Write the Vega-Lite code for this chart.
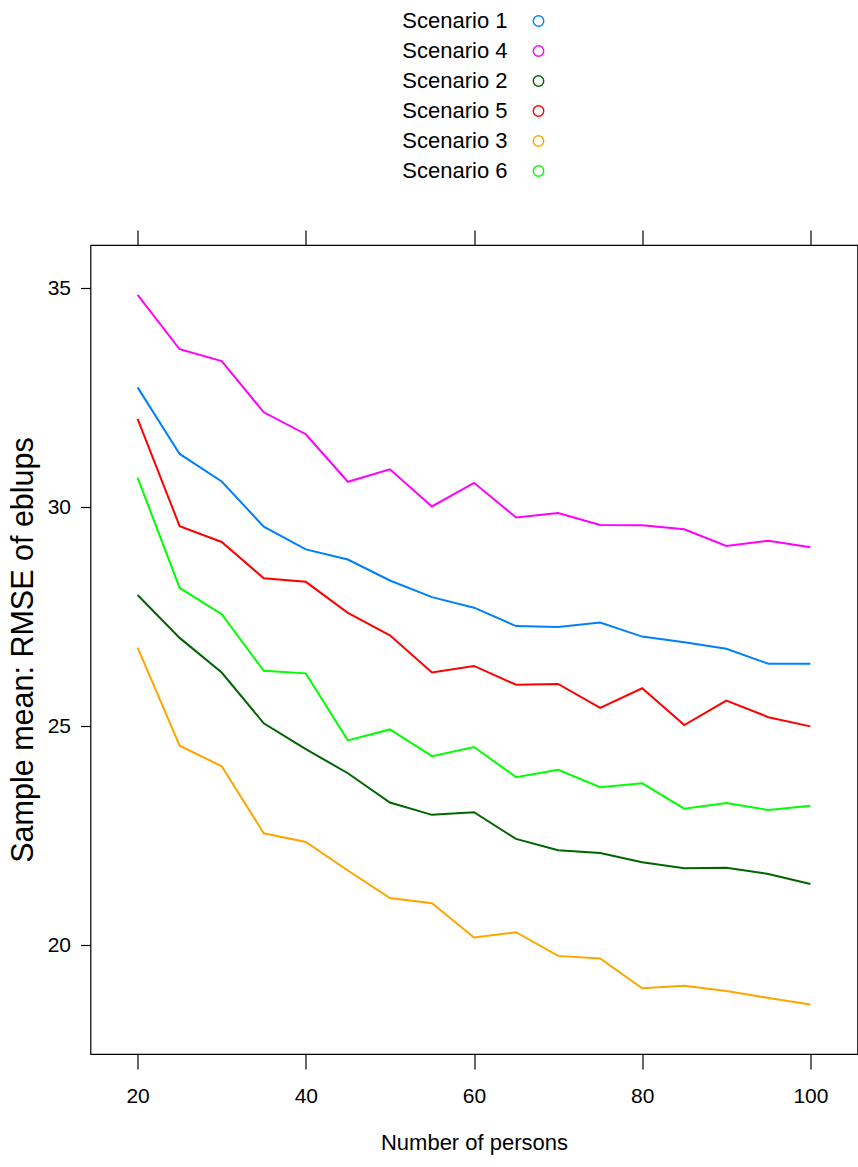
{
  "$schema": "https://vega.github.io/schema/vega-lite/v6.json",
  "width": 767,
  "height": 809,
  "autosize": {"type": "none"},
  "padding": {"left": 90.5, "top": 245, "right": 0.5, "bottom": 113},
  "background": "white",
  "config": {
    "view": {"stroke": "black", "strokeWidth": 1.2},
    "font": "Liberation Sans",
    "axis": {"grid": false, "domain": false, "tickColor": "black", "tickWidth": 1.2, "labelColor": "black", "titleColor": "black", "titleFontWeight": "normal", "labelFont": "Liberation Sans", "titleFont": "Liberation Sans"},
    "legend": {"labelFont": "Liberation Sans"}
  },
  "data": {"values": [
    {"n":20,"s":"Scenario 1","v":32.74},{"n":25,"s":"Scenario 1","v":31.22},{"n":30,"s":"Scenario 1","v":30.59},{"n":35,"s":"Scenario 1","v":29.56},{"n":40,"s":"Scenario 1","v":29.04},{"n":45,"s":"Scenario 1","v":28.81},{"n":50,"s":"Scenario 1","v":28.33},{"n":55,"s":"Scenario 1","v":27.95},{"n":60,"s":"Scenario 1","v":27.71},{"n":65,"s":"Scenario 1","v":27.29},{"n":70,"s":"Scenario 1","v":27.27},{"n":75,"s":"Scenario 1","v":27.37},{"n":80,"s":"Scenario 1","v":27.05},{"n":85,"s":"Scenario 1","v":26.92},{"n":90,"s":"Scenario 1","v":26.77},{"n":95,"s":"Scenario 1","v":26.43},{"n":100,"s":"Scenario 1","v":26.43},
    {"n":20,"s":"Scenario 4","v":34.85},{"n":25,"s":"Scenario 4","v":33.61},{"n":30,"s":"Scenario 4","v":33.34},{"n":35,"s":"Scenario 4","v":32.17},{"n":40,"s":"Scenario 4","v":31.67},{"n":45,"s":"Scenario 4","v":30.585},{"n":50,"s":"Scenario 4","v":30.87},{"n":55,"s":"Scenario 4","v":30.02},{"n":60,"s":"Scenario 4","v":30.56},{"n":65,"s":"Scenario 4","v":29.77},{"n":70,"s":"Scenario 4","v":29.87},{"n":75,"s":"Scenario 4","v":29.6},{"n":80,"s":"Scenario 4","v":29.59},{"n":85,"s":"Scenario 4","v":29.5},{"n":90,"s":"Scenario 4","v":29.12},{"n":95,"s":"Scenario 4","v":29.24},{"n":100,"s":"Scenario 4","v":29.09},
    {"n":20,"s":"Scenario 2","v":28.0},{"n":25,"s":"Scenario 2","v":27.02},{"n":30,"s":"Scenario 2","v":26.23},{"n":35,"s":"Scenario 2","v":25.07},{"n":40,"s":"Scenario 2","v":24.48},{"n":45,"s":"Scenario 2","v":23.93},{"n":50,"s":"Scenario 2","v":23.26},{"n":55,"s":"Scenario 2","v":22.98},{"n":60,"s":"Scenario 2","v":23.04},{"n":65,"s":"Scenario 2","v":22.43},{"n":70,"s":"Scenario 2","v":22.17},{"n":75,"s":"Scenario 2","v":22.11},{"n":80,"s":"Scenario 2","v":21.9},{"n":85,"s":"Scenario 2","v":21.76},{"n":90,"s":"Scenario 2","v":21.77},{"n":95,"s":"Scenario 2","v":21.63},{"n":100,"s":"Scenario 2","v":21.4},
    {"n":20,"s":"Scenario 5","v":32.02},{"n":25,"s":"Scenario 5","v":29.57},{"n":30,"s":"Scenario 5","v":29.21},{"n":35,"s":"Scenario 5","v":28.38},{"n":40,"s":"Scenario 5","v":28.3},{"n":45,"s":"Scenario 5","v":27.59},{"n":50,"s":"Scenario 5","v":27.08},{"n":55,"s":"Scenario 5","v":26.23},{"n":60,"s":"Scenario 5","v":26.38},{"n":65,"s":"Scenario 5","v":25.95},{"n":70,"s":"Scenario 5","v":25.97},{"n":75,"s":"Scenario 5","v":25.42},{"n":80,"s":"Scenario 5","v":25.87},{"n":85,"s":"Scenario 5","v":25.03},{"n":90,"s":"Scenario 5","v":25.59},{"n":95,"s":"Scenario 5","v":25.21},{"n":100,"s":"Scenario 5","v":25.0},
    {"n":20,"s":"Scenario 3","v":26.8},{"n":25,"s":"Scenario 3","v":24.56},{"n":30,"s":"Scenario 3","v":24.09},{"n":35,"s":"Scenario 3","v":22.56},{"n":40,"s":"Scenario 3","v":22.36},{"n":45,"s":"Scenario 3","v":21.71},{"n":50,"s":"Scenario 3","v":21.08},{"n":55,"s":"Scenario 3","v":20.96},{"n":60,"s":"Scenario 3","v":20.18},{"n":65,"s":"Scenario 3","v":20.3},{"n":70,"s":"Scenario 3","v":19.76},{"n":75,"s":"Scenario 3","v":19.7},{"n":80,"s":"Scenario 3","v":19.02},{"n":85,"s":"Scenario 3","v":19.08},{"n":90,"s":"Scenario 3","v":18.96},{"n":95,"s":"Scenario 3","v":18.8},{"n":100,"s":"Scenario 3","v":18.65},
    {"n":20,"s":"Scenario 6","v":30.68},{"n":25,"s":"Scenario 6","v":28.16},{"n":30,"s":"Scenario 6","v":27.56},{"n":35,"s":"Scenario 6","v":26.27},{"n":40,"s":"Scenario 6","v":26.21},{"n":45,"s":"Scenario 6","v":24.68},{"n":50,"s":"Scenario 6","v":24.93},{"n":55,"s":"Scenario 6","v":24.32},{"n":60,"s":"Scenario 6","v":24.53},{"n":65,"s":"Scenario 6","v":23.84},{"n":70,"s":"Scenario 6","v":24.01},{"n":75,"s":"Scenario 6","v":23.61},{"n":80,"s":"Scenario 6","v":23.7},{"n":85,"s":"Scenario 6","v":23.12},{"n":90,"s":"Scenario 6","v":23.25},{"n":95,"s":"Scenario 6","v":23.09},{"n":100,"s":"Scenario 6","v":23.19}
  ]},
  "layer": [
    {
      "mark": {"type": "line", "strokeWidth": 2},
      "encoding": {
        "x": {"field": "n", "type": "quantitative", "scale": {"domain": [14.4, 105.6], "nice": false, "zero": false},
              "axis": {"orient": "bottom", "values": [20, 40, 60, 80, 100], "tickSize": 15, "labelPadding": 16, "labelFontSize": 21, "title": "Number of persons", "titleFontSize": 22, "titlePadding": 26}},
        "y": {"field": "v", "type": "quantitative", "scale": {"domain": [17.52, 35.99], "nice": false, "zero": false},
              "axis": {"orient": "left", "values": [20, 25, 30, 35], "tickSize": 10, "labelPadding": 10, "labelFontSize": 21, "title": "Sample mean: RMSE of eblups", "titleFontSize": 30.5, "titlePadding": 9}},
        "color": {"field": "s", "type": "nominal",
                  "scale": {"domain": ["Scenario 1", "Scenario 4", "Scenario 2", "Scenario 5", "Scenario 3", "Scenario 6"], "range": ["#0080ff", "#ff00ff", "#006400", "#ff0000", "#ffa500", "#00ff00"]},
                  "legend": {"orient": "none", "legendX": 437, "legendY": -235, "title": null, "labelFontSize": 22, "labelColor": "black", "labelAlign": "right", "labelOffset": -42, "symbolType": "circle", "symbolSize": 110, "symbolStrokeWidth": 1.4, "symbolFillColor": "transparent", "rowPadding": 8}}
      }
    },
    {
      "mark": {"type": "point", "opacity": 0},
      "encoding": {
        "x": {"field": "n", "type": "quantitative", "axis": {"orient": "top", "values": [20, 40, 60, 80, 100], "tickSize": 15, "labels": false, "title": null}},
        "y": {"field": "v", "type": "quantitative", "axis": {"orient": "right", "values": [20, 25, 30, 35], "tickSize": 10, "labels": false, "title": null}}
      }
    }
  ],
  "resolve": {"axis": {"x": "independent", "y": "independent"}}
}
